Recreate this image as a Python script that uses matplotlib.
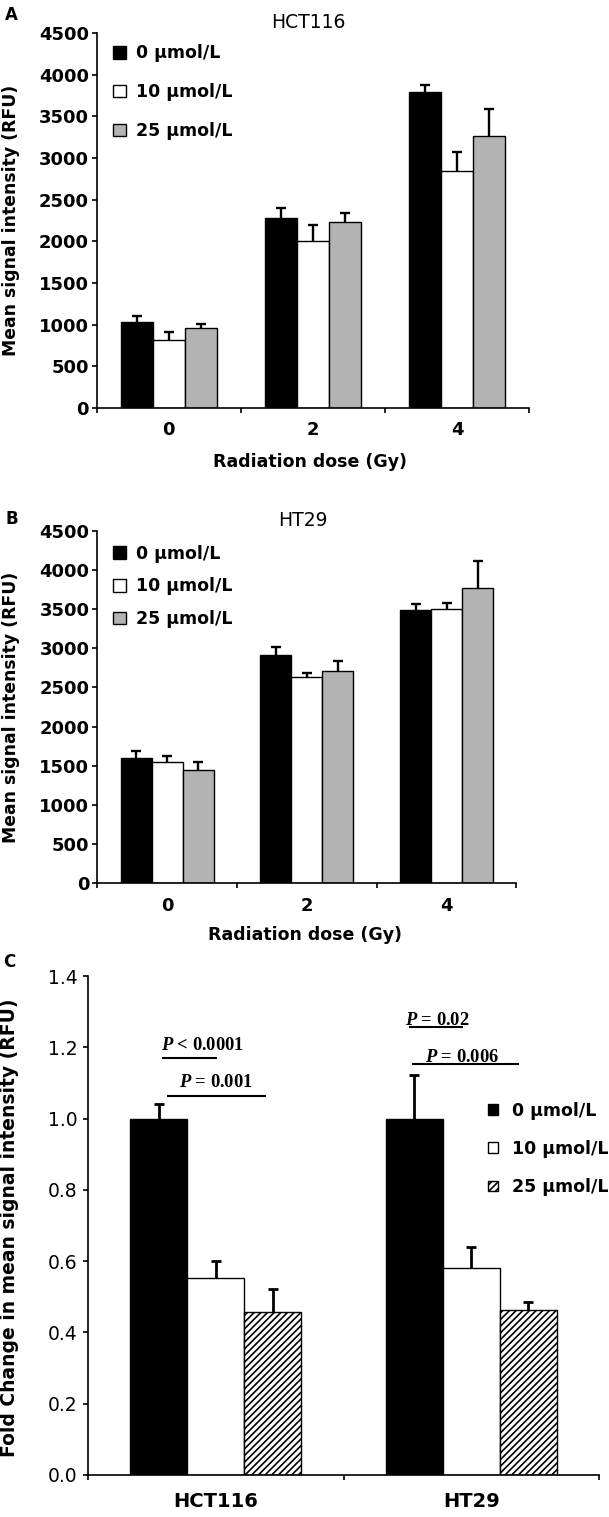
import matplotlib
matplotlib.use('Agg')
import matplotlib.pyplot as plt
import numpy as np

plt.rcParams['font.family'] = ['DejaVu Sans']
plt.rcParams['mathtext.fontset'] = 'custom'
plt.rcParams['mathtext.it'] = 'Liberation Serif:italic:bold'
plt.rcParams['mathtext.rm'] = 'Liberation Serif:bold'
plt.rcParams['hatch.linewidth'] = 1.2

# ---------------- data ----------------
doses = ['0', '2', '4']
conc_labels = ['0 µmol/L', '10 µmol/L', '25 µmol/L']

hct_0 = [1030, 2275, 3790]
hct_10 = [820, 2005, 2845]
hct_25 = [955, 2235, 3270]
hct_0_err = [75, 130, 85]
hct_10_err = [95, 190, 230]
hct_25_err = [55, 110, 320]

ht_0 = [1595, 2915, 3490]
ht_10 = [1550, 2630, 3505]
ht_25 = [1445, 2715, 3770]
ht_0_err = [95, 100, 75]
ht_10_err = [80, 60, 75]
ht_25_err = [100, 120, 350]

cells = ['HCT116', 'HT29']
fold_0 = [1.0, 1.0]
fold_10 = [0.553, 0.580]
fold_25 = [0.457, 0.462]
fold_0_err = [0.040, 0.122]
fold_10_err = [0.048, 0.061]
fold_25_err = [0.064, 0.023]

p_texts = ['P < 0.0001', 'P = 0.001', 'P = 0.02', 'P = 0.006']

# ---------------- figure ----------------
fig = plt.figure(figsize=(6.09, 15.17), dpi=100)

W = 0.222
LW_SP = 1.2


def style_axes(ax):
    for s in ['top', 'right']:
        ax.spines[s].set_visible(False)
    for s in ['left', 'bottom']:
        ax.spines[s].set_linewidth(LW_SP)


def upper_err(ax, xi, m, e, lw, cap_pts):
    m = np.asarray(m, dtype=float)
    e = np.asarray(e, dtype=float)
    ax.errorbar(xi, m, yerr=[np.zeros(len(m)), e], fmt='none', ecolor='black',
                elinewidth=lw, capsize=0, zorder=3)
    ax.plot(xi, m + e, linestyle='none', marker='_', markersize=cap_pts,
            markeredgewidth=lw, color='black', zorder=3)


def dose_panel(rect, series, errs, title, lab_spacing, leg_anchor, ylab_x, xlab_xy, title_y):
    ax = fig.add_axes(rect)
    style_axes(ax)
    x = np.arange(len(doses))
    colors = ['black', 'white', '#b3b3b3']
    for i, (m, e) in enumerate(zip(series, errs)):
        xi = x + (i - 1) * W
        ax.bar(xi, m, W, color=colors[i], edgecolor='black', linewidth=1.0,
               zorder=2, label=conc_labels[i])
        upper_err(ax, xi, m, e, 1.7, 7.2)
    ax.set_xlim(-0.5, len(doses) - 0.5)
    ax.set_ylim(0, 4500)
    ax.set_xticks(np.arange(len(doses) + 1) - 0.5)
    ax.set_xticklabels([])
    ax.set_xticks(x, minor=True)
    ax.set_xticklabels(doses, minor=True, fontweight='bold', fontsize=13)
    ax.tick_params(axis='x', which='major', length=3.6, width=LW_SP, direction='out')
    ax.tick_params(axis='x', which='minor', length=0, pad=9.5)
    yt = np.arange(0, 4501, 500)
    ax.set_yticks(yt)
    ax.set_yticklabels([str(v) for v in yt], fontweight='bold', fontsize=13)
    ax.tick_params(axis='y', length=3.6, width=LW_SP, direction='out', pad=2)
    ax.set_ylabel('Mean signal intensity (RFU)', fontweight='bold', fontsize=12.4, va='center')
    ax.yaxis.set_label_coords(ylab_x, 0.5)
    ax.set_xlabel('Radiation dose (Gy)', fontweight='bold', fontsize=12.5, va='center')
    ax.xaxis.set_label_coords(*xlab_xy)
    ax.text(0.49, title_y, title, transform=ax.transAxes, ha='center', va='center', fontsize=13.5)
    ax.legend(loc='upper left', bbox_to_anchor=leg_anchor, frameon=False,
              prop={'weight': 'bold', 'size': 12.5}, handlelength=0.75, handleheight=0.75,
              handletextpad=0.6, labelspacing=lab_spacing, borderpad=0, borderaxespad=0)
    return ax


axA = dose_panel([0.1585, 0.7310, 0.7102, 0.2472],
                 [hct_0, hct_10, hct_25], [hct_0_err, hct_10_err, hct_25_err],
                 'HCT116', 1.2, (0.038, 0.970), -0.198, (0.494, -0.143), 1.028)
axB = dose_panel([0.1596, 0.4177, 0.6885, 0.2324],
                 [ht_0, ht_10, ht_25], [ht_0_err, ht_10_err, ht_25_err],
                 'HT29', 0.84, (0.0377, 0.960), -0.2056, (0.496, -0.1467), 1.0306)

# ---------------- panel C ----------------
axC = fig.add_axes([0.1445, 0.0277, 0.8391, 0.3289])
style_axes(axC)
xc = np.arange(len(cells))
WC = 0.223
fills = [('black', ''), ('white', ''), ('white', '/////')]
for i, (m, e) in enumerate(zip([fold_0, fold_10, fold_25], [fold_0_err, fold_10_err, fold_25_err])):
    xi = xc + (i - 1) * WC
    axC.bar(xi, m, WC, color=fills[i][0], edgecolor='black', linewidth=1.0,
            hatch=fills[i][1], zorder=2, label=conc_labels[i])
    upper_err(axC, xi, m, e, 2.0, 7.4)
axC.set_xlim(-0.5, len(cells) - 0.5)
axC.set_ylim(0, 1.4)
axC.set_xticks(np.arange(len(cells) + 1) - 0.5)
axC.set_xticklabels([])
axC.set_xticks(xc, minor=True)
axC.set_xticklabels(cells, minor=True, fontweight='bold', fontsize=14)
axC.tick_params(axis='x', which='major', length=3.6, width=LW_SP, direction='out')
axC.tick_params(axis='x', which='minor', length=0, pad=12)
ytc = np.arange(0, 1.41, 0.2)
axC.set_yticks(ytc)
axC.set_yticklabels(['%.1f' % v for v in ytc], fontsize=13.5)
axC.tick_params(axis='y', length=3.6, width=LW_SP, direction='out', pad=4)
axC.set_ylabel('Fold Change in mean signal intensity (RFU)', fontweight='bold', fontsize=13.5, va='center')
axC.yaxis.set_label_coords(-0.154, 0.495)
axC.legend(loc='upper left', bbox_to_anchor=(0.783, 0.748), frameon=False,
           prop={'weight': 'bold', 'size': 12.5}, handlelength=0.58, handleheight=0.58,
           handletextpad=0.8, labelspacing=1.16, borderpad=0, borderaxespad=0)

# significance brackets: (x start, x end, line y, text x, text y)
brackets = [(-0.212, 0.004, 1.169, -0.052, 1.205),
            (-0.191, 0.195, 1.064, 0.002, 1.100),
            (0.757, 0.969, 1.256, 0.868, 1.275),
            (0.767, 1.188, 1.152, 0.964, 1.172)]
for (x0, x1, yl, tx, ty), s in zip(brackets, p_texts):
    axC.plot([x0, x1], [yl, yl], color='black', lw=1.5, solid_capstyle='butt', zorder=4)
    label = r'$P$' + s[1:]
    axC.text(tx, ty, label, ha='center', va='center', fontsize=13.3,
             fontfamily='Liberation Serif', fontweight='bold')

# panel letters
fig.text(11 / 609, 1 - 15 / 1517, 'A', fontweight='bold', fontsize=12, ha='center', va='center')
fig.text(11.5 / 609, 1 - 519 / 1517, 'B', fontweight='bold', fontsize=12, ha='center', va='center')
fig.text(9 / 609, 1 - 962 / 1517, 'C', fontweight='bold', fontsize=12, ha='center', va='center')

fig.savefig('out.png', dpi=100)
